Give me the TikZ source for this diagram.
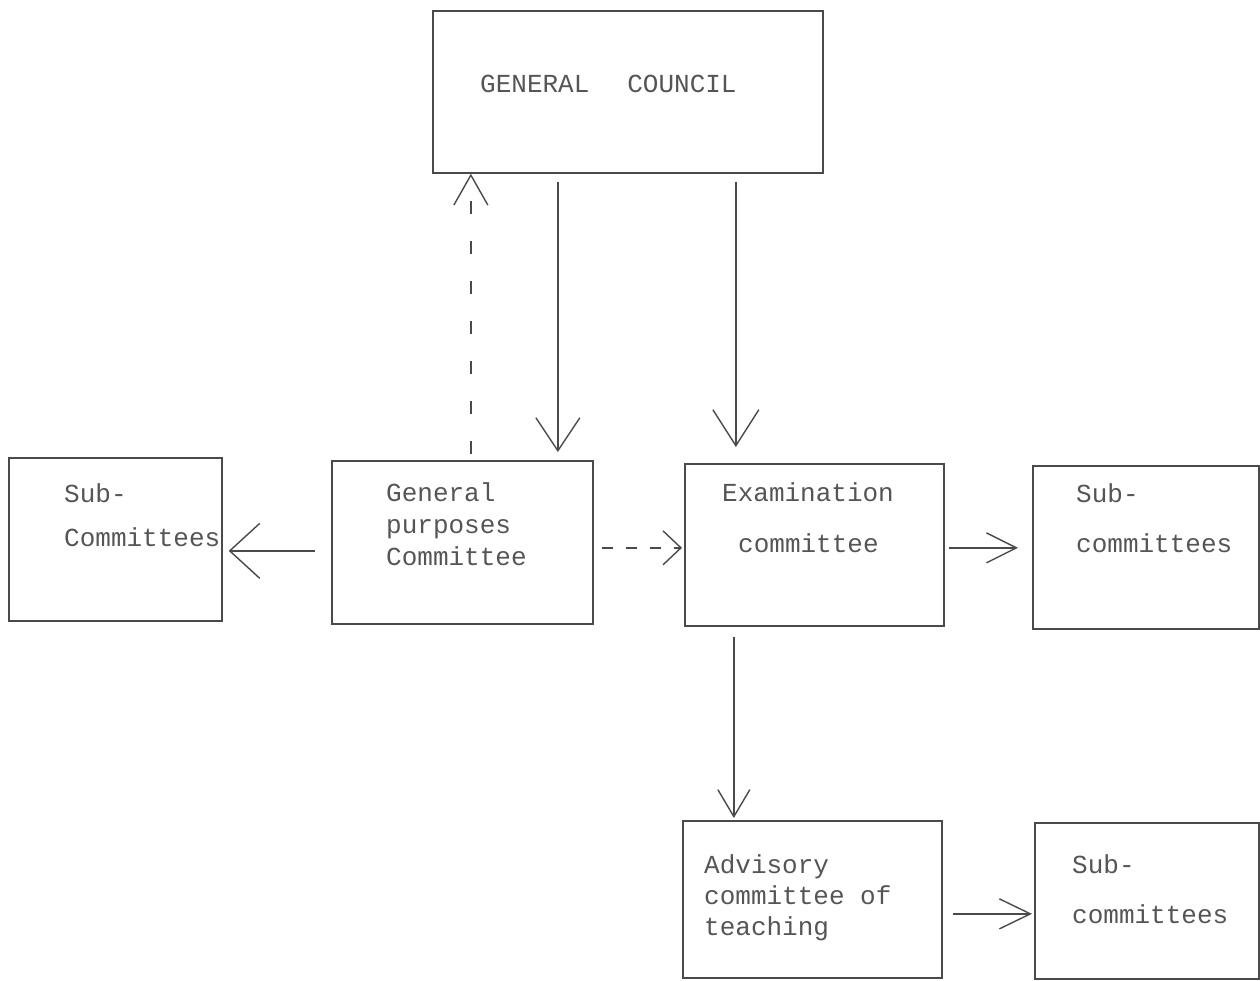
\documentclass[tikz,border=0pt]{standalone}
\usepackage{fontspec}
\setmonofont{Liberation Mono}
\usetikzlibrary{arrows.meta}
\definecolor{ink}{HTML}{4A4A4A}
\definecolor{tink}{HTML}{555555}
\begin{document}
\begin{tikzpicture}[x=1pt,y=-1pt,
  box/.style={draw=ink, line width=1.7pt, rectangle, inner sep=0pt, anchor=north west},
  lbl/.style={anchor=base west, inner sep=0pt, text=tink, font=\ttfamily\fontsize{26}{32}\selectfont},
  conn/.style={draw=ink, line width=1.4pt},
  vee/.style 2 args={-{Straight Barb[length=#1pt, width=#2pt]}},
  dashA/.style={dash pattern=on 13pt off 27pt},
  dashB/.style={dash pattern=on 11pt off 13pt}]
\useasboundingbox (0,0) rectangle (1260,981);
% boxes
\node[box, minimum width=390pt, minimum height=162pt] (gc) at (432,10) {};
\node[box, minimum width=213pt, minimum height=163pt] (lsub) at (8,457) {};
\node[box, minimum width=261pt, minimum height=163pt] (gp) at (331,460) {};
\node[box, minimum width=259pt, minimum height=162pt] (exam) at (684,463) {};
\node[box, minimum width=226pt, minimum height=163pt] (rsub) at (1032,465) {};
\node[box, minimum width=259pt, minimum height=157pt] (adv) at (682,820) {};
\node[box, minimum width=224pt, minimum height=156pt] (bsub) at (1034,822) {};
% texts
\node[lbl] (gca) at (480,93) {GENERAL\hspace*{38pt}COUNCIL};
\node[lbl] (lsa) at (64,502) {Sub-};
\node[lbl] (lsb) at (64,546) {Committees};
\node[lbl] (gpa) at (386,501) {General};
\node[lbl] (gpb) at (386,533) {purposes};
\node[lbl] (gpc) at (386,565) {Committee};
\node[lbl] (exa) at (722,501) {Examination};
\node[lbl] (exb) at (738,552) {committee};
\node[lbl] (rsa) at (1076,502) {Sub-};
\node[lbl] (rsb) at (1076,552) {committees};
\node[lbl] (ada) at (704,873) {Advisory};
\node[lbl] (adb) at (704,904) {committee of};
\node[lbl] (adc) at (704,935) {teaching};
\node[lbl] (bsa) at (1072,873) {Sub-};
\node[lbl] (bsb) at (1072,923) {committees};
% connectors
\draw[conn, dashA, vee={30}{34}, shorten <=6pt] ([xshift=8.5pt]gp.north) -- ([xshift=-157pt]gc.south);
\draw[conn, vee={33}{44}, shorten <=8pt, shorten >=8pt] ([xshift=-70pt]gc.south) -- ([xshift=95.5pt]gp.north);
\draw[conn, vee={36}{46}, shorten <=8pt, shorten >=16pt] ([xshift=108pt]gc.south) -- ([xshift=-78.5pt]exam.north);
\draw[conn, vee={30}{55}, shorten <=16pt, shorten >=6pt] ([yshift=-8.5pt]gp.west) -- ([yshift=-11.5pt]lsub.east);
\draw[conn, dashB, vee={18}{34}, shorten <=8pt, shorten >=2pt] ([yshift=-5.5pt]gp.east) -- ([yshift=-3pt]exam.west);
\draw[conn, vee={30}{30}, shorten <=4pt, shorten >=14pt] ([yshift=-3pt]exam.east) -- ([yshift=-0.5pt]rsub.west);
\draw[conn, vee={27}{32}, shorten <=10pt, shorten >=2pt] ([xshift=-80.5pt]exam.south) -- ([xshift=-78.5pt]adv.north);
\draw[conn, vee={31}{30}, shorten <=10pt, shorten >=2pt] ([yshift=-14.5pt]adv.east) -- ([yshift=-13pt]bsub.west);
\end{tikzpicture}
\end{document}
